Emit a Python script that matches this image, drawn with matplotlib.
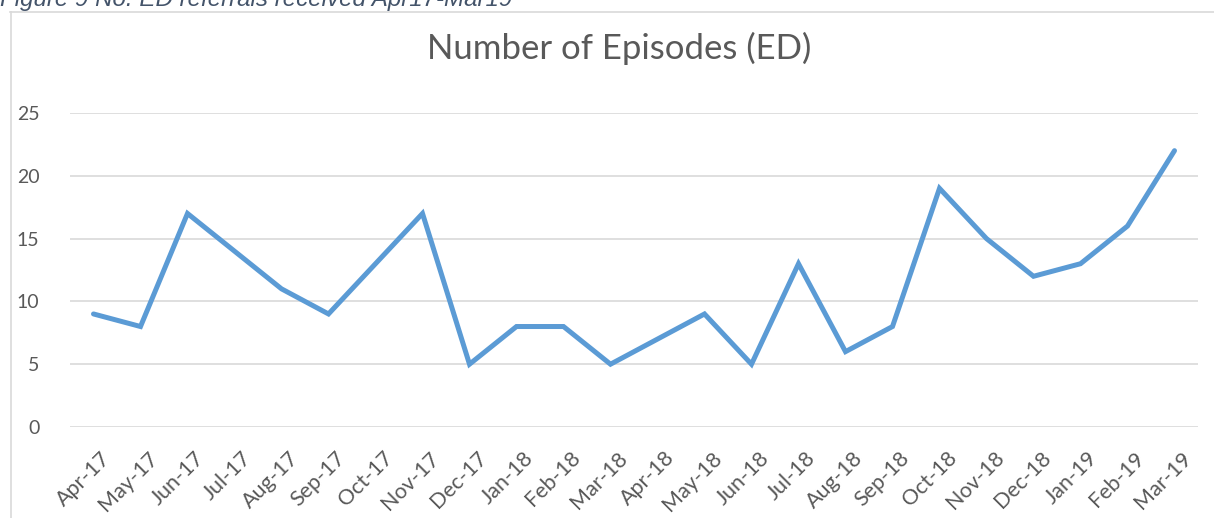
import matplotlib
matplotlib.use("Agg")
import matplotlib.pyplot as plt
from matplotlib.lines import Line2D
from matplotlib.transforms import ScaledTranslation

months = ["Apr-17", "May-17", "Jun-17", "Jul-17", "Aug-17", "Sep-17", "Oct-17", "Nov-17",
          "Dec-17", "Jan-18", "Feb-18", "Mar-18", "Apr-18", "May-18", "Jun-18", "Jul-18",
          "Aug-18", "Sep-18", "Oct-18", "Nov-18", "Dec-18", "Jan-19", "Feb-19", "Mar-19"]
episodes = [9, 8, 17, 14, 11, 9, 13, 17, 5, 8, 8, 5, 7, 9, 5, 13, 6, 8, 19, 15, 12, 13, 16, 22]
y_ticks = [0, 5, 10, 15, 20, 25]
title = "Number of Episodes (ED)"
caption = "Figure 9 No. ED referrals received Apr17-Mar19"

plt.rcParams['font.family'] = ['Lato', 'DejaVu Sans']

W, H = 1214, 518
fig = plt.figure(figsize=(W / 100, H / 100), dpi=100)

# outer chart border (light gray), partially cropped
fig.add_artist(Line2D([10.5 / W, 10.5 / W], [0, 1 - 11.5 / H], transform=fig.transFigure,
                      color="#D9D9D9", lw=1.2))
fig.add_artist(Line2D([10 / W, 1], [1 - 11.5 / H, 1 - 11.5 / H], transform=fig.transFigure,
                      color="#D9D9D9", lw=1.2))

fig.text(0.0, 1 - 6 / H, caption, fontsize=17.4, style="italic", color="#44546A",
         ha="left", va="baseline", family=["Liberation Sans", "DejaVu Sans"])

left, right = 70 / W, 1198 / W
bottom, top = 1 - 427 / H, 1 - 113 / H
ax = fig.add_axes([left, bottom, right - left, top - bottom])

x = list(range(len(months)))
ax.plot(x, episodes, color="#5B9BD5", lw=3.6, solid_joinstyle="miter", solid_capstyle="round",
        zorder=3)
ax.set_xlim(-0.5, len(months) - 0.5)
ax.set_ylim(0, 25)
ax.set_yticks(y_ticks)
ax.set_yticklabels([str(v) for v in y_ticks])
ax.set_xticks(x)
ax.set_xticklabels(months, rotation=45, ha="right", va="top", rotation_mode="anchor")

ax.grid(axis="y", color="#D9D9D9", lw=1.2)
ax.set_axisbelow(True)
for s in ax.spines.values():
    s.set_visible(False)
ax.tick_params(axis="y", length=0, labelsize=14, colors="#595959", pad=22)
ax.tick_params(axis="x", length=0, labelsize=15.5, colors="#595959", pad=15)
shift = ScaledTranslation(7 / 100, 0, fig.dpi_scale_trans)
for lbl in ax.get_xticklabels():
    lbl.set_transform(lbl.get_transform() + shift)

fig.text(619 / W, 1 - 48 / H, title, fontsize=25, color="#595959",
         ha="center", va="center")

fig.savefig("out.png", dpi=100)
